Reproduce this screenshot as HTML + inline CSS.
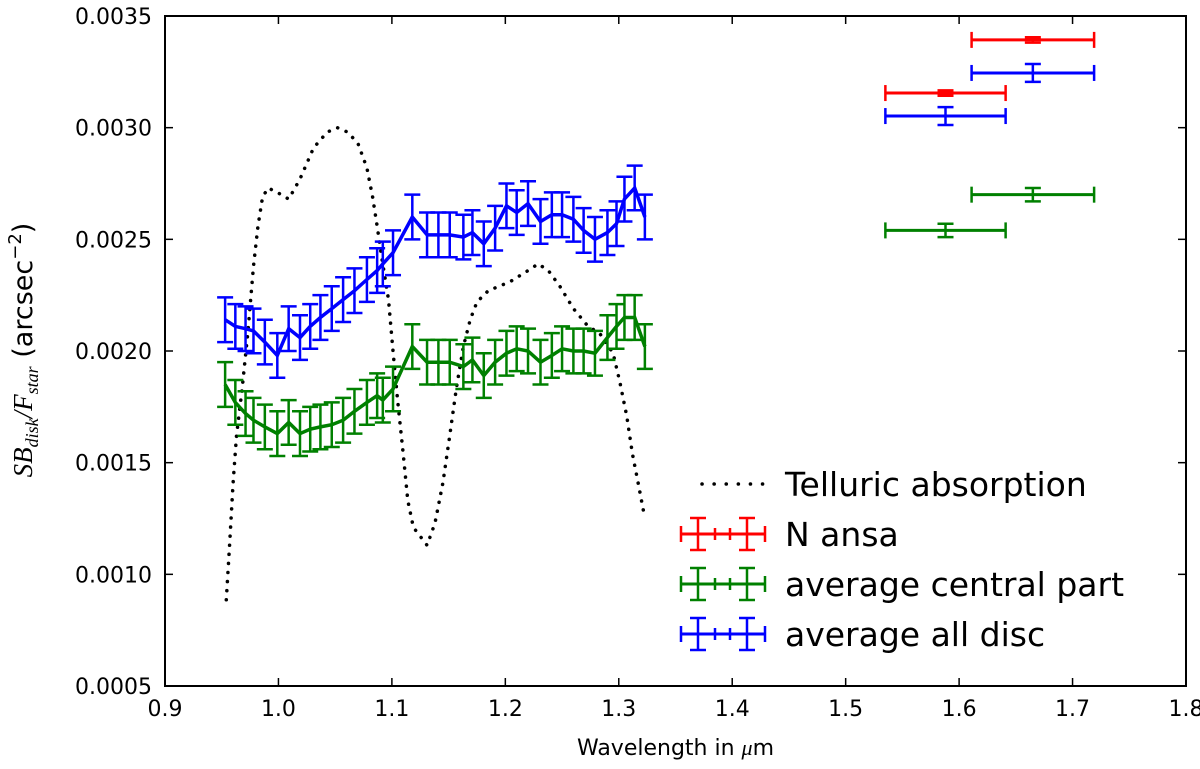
<!DOCTYPE html>
<html><head><meta charset="utf-8"><style>
html,body{margin:0;padding:0;background:#fff;}
svg{display:block;font-family:"DejaVu Sans","Liberation Sans",sans-serif;}
</style></head><body>
<svg id="chart" width="1200" height="769" viewBox="0 0 1200 769" xmlns="http://www.w3.org/2000/svg">
<rect width="1200" height="769" fill="#fff"/>
<g id="plot"></g>
<g id="axes"></g>
<g id="legend"></g>
</svg>
<script>
const wavelengths=[0.953,0.962,0.971,0.978,0.988,0.999,1.009,1.019,1.028,1.037,1.047,1.057,1.067,1.078,1.087,1.092,1.101,1.118,1.131,1.141,1.151,1.163,1.171,1.181,1.191,1.201,1.210,1.220,1.231,1.241,1.250,1.260,1.269,1.279,1.290,1.298,1.305,1.314,1.323];
const blueValues=[0.00214,0.00211,0.00210,0.00209,0.00204,0.00198,0.00210,0.00206,0.00211,0.00215,0.00219,0.00223,0.00227,0.00232,0.00236,0.00239,0.00244,0.00260,0.00252,0.00252,0.00252,0.00251,0.00253,0.00248,0.00255,0.00265,0.00262,0.00266,0.00258,0.00261,0.00261,0.00259,0.00254,0.00250,0.00253,0.00257,0.00268,0.00273,0.00260];
const greenValues=[0.00185,0.00177,0.00172,0.00169,0.00166,0.00163,0.00168,0.00163,0.00165,0.00166,0.00167,0.00169,0.00173,0.00177,0.00180,0.00178,0.00183,0.00202,0.00195,0.00195,0.00195,0.00193,0.00196,0.00189,0.00195,0.00199,0.00201,0.00200,0.00195,0.00198,0.00201,0.00200,0.00200,0.00199,0.00206,0.00211,0.00215,0.00215,0.00202];
const blueErr=0.0001;
const greenErr=0.0001;
const telluricX=[0.954,0.957,0.960,0.963,0.968,0.973,0.978,0.982,0.986,0.991,0.999,1.009,1.019,1.031,1.043,1.052,1.061,1.070,1.078,1.083,1.087,1.091,1.097,1.101,1.105,1.110,1.114,1.119,1.131,1.138,1.145,1.151,1.157,1.163,1.169,1.175,1.185,1.204,1.220,1.229,1.238,1.248,1.260,1.273,1.283,1.295,1.301,1.307,1.312,1.317,1.320,1.323];
const telluricY=[0.000886,0.00114,0.00141,0.00162,0.00183,0.00208,0.00238,0.00256,0.00269,0.00273,0.00271,0.00268,0.00277,0.00291,0.00298,0.00300,0.00298,0.00293,0.00282,0.00269,0.00256,0.00242,0.00223,0.00200,0.00178,0.00154,0.00133,0.00121,0.00113,0.00123,0.00141,0.00162,0.00184,0.00202,0.00214,0.00222,0.00227,0.00231,0.00236,0.00239,0.00236,0.00229,0.00219,0.00211,0.00208,0.00199,0.00186,0.00171,0.00154,0.00141,0.00133,0.00125];
const bandX=[1.588,1.665];
const bandXErr=[0.053,0.054];
const nAnsaY=[0.003155,0.003393];
const nAnsaErr=[0.000012,0.000012];
const allDiscY=[0.003052,0.003245];
const allDiscErr=[0.00004,0.00004];
const centralY=[0.00254,0.00270];
const centralErr=[0.00003,0.00003];
const xTicks=[0.9,1.0,1.1,1.2,1.3,1.4,1.5,1.6,1.7,1.8];
const yTicks=[0.0005,0.0010,0.0015,0.0020,0.0025,0.0030,0.0035];
const xTickLabels=["0.9","1.0","1.1","1.2","1.3","1.4","1.5","1.6","1.7","1.8"];
const yTickLabels=["0.0005","0.0010","0.0015","0.0020","0.0025","0.0030","0.0035"];

const L=165,R=1186,T=16,B=686;
const X=v=>L+(v-0.9)/0.9*(R-L);
const Y=v=>B-(v-0.0005)/0.003*(B-T);
const NS="http://www.w3.org/2000/svg";
function mk(tag,attrs,parent){const e=document.createElementNS(NS,tag);for(const k in attrs)e.setAttribute(k,attrs[k]);parent.appendChild(e);return e;}
const plot=document.getElementById('plot'),axes=document.getElementById('axes'),leg=document.getElementById('legend');

let tp=telluricX.map((x,i)=>X(x).toFixed(1)+','+Y(telluricY[i]).toFixed(1)).join(' ');
const tl=mk('polyline',{points:tp,fill:'none',stroke:'#000','stroke-width':3.5,'stroke-dasharray':'0.1 9','stroke-linecap':'round'},plot);



function series(vals,err,color,name){
  const g=mk('g',{},plot);
  
  
  vals.forEach((v,i)=>{
    const x=X(wavelengths[i]),y1=Y(v+err),y2=Y(v-err);
    mk('line',{x1:x,x2:x,y1:y1,y2:y2,stroke:color,'stroke-width':2.5},g);
    mk('line',{x1:x-8,x2:x+8,y1:y1,y2:y1,stroke:color,'stroke-width':2.5},g);
    mk('line',{x1:x-8,x2:x+8,y1:y2,y2:y2,stroke:color,'stroke-width':2.5},g);
  });
  mk('polyline',{points:vals.map((v,i)=>X(wavelengths[i]).toFixed(1)+','+Y(v).toFixed(1)).join(' '),fill:'none',stroke:color,'stroke-width':3.5,'stroke-linejoin':'miter'},g);
}
series(greenValues,greenErr,'#008000','central-part-series');
series(blueValues,blueErr,'#0000ff','all-disc-series');

function band(ys,errs,color,name){
  const g=mk('g',{},plot);
  
  
  ys.forEach((v,i)=>{
    const cx=X(bandX[i]),cy=Y(v),x1=X(bandX[i]-bandXErr[i]),x2=X(bandX[i]+bandXErr[i]);
    const y1=Y(v+errs[i]),y2=Y(v-errs[i]);
    mk('line',{x1:x1,x2:x2,y1:cy,y2:cy,stroke:color,'stroke-width':3},g);
    mk('line',{x1:x1,x2:x1,y1:cy-8,y2:cy+8,stroke:color,'stroke-width':2.5},g);
    mk('line',{x1:x2,x2:x2,y1:cy-8,y2:cy+8,stroke:color,'stroke-width':2.5},g);
    mk('line',{x1:cx,x2:cx,y1:y1,y2:y2,stroke:color,'stroke-width':2.5},g);
    mk('line',{x1:cx-8,x2:cx+8,y1:y1,y2:y1,stroke:color,'stroke-width':2.5},g);
    mk('line',{x1:cx-8,x2:cx+8,y1:y2,y2:y2,stroke:color,'stroke-width':2.5},g);
  });
}
band(nAnsaY,nAnsaErr,'#ff0000','n-ansa-points');
band(allDiscY,allDiscErr,'#0000ff','all-disc-band-points');
band(centralY,centralErr,'#008000','central-band-points');

const fr=mk('rect',{x:L,y:T,width:R-L,height:B-T,fill:'none',stroke:'#000','stroke-width':2},axes);


xTicks.forEach((v,i)=>{
  const x=X(v);
  mk('line',{x1:x,x2:x,y1:B,y2:B-8,stroke:'#000','stroke-width':1.5},axes);
  mk('line',{x1:x,x2:x,y1:T,y2:T+8,stroke:'#000','stroke-width':1.5},axes);
  const t=mk('text',{x:x,y:B+30,'text-anchor':'middle','font-size':22},axes);
  t.textContent=xTickLabels[i];
  
  
});
yTicks.forEach((v,i)=>{
  const y=Y(v);
  mk('line',{x1:L,x2:L+8,y1:y,y2:y,stroke:'#000','stroke-width':1.5},axes);
  mk('line',{x1:R,x2:R-8,y1:y,y2:y,stroke:'#000','stroke-width':1.5},axes);
  const t=mk('text',{x:L-13,y:y+8,'text-anchor':'end','font-size':22},axes);
  t.textContent=yTickLabels[i];
  
  
});
const xt=mk('text',{x:(L+R)/2,y:755,'text-anchor':'middle','font-size':22},axes);
xt.innerHTML='Wavelength in <tspan font-style="italic" font-family="Liberation Serif,serif">μ</tspan>m';


const yt=mk('text',{x:0,y:0,'text-anchor':'middle','font-size':27,transform:'translate(32,350) rotate(-90)'},axes);
yt.innerHTML='<tspan font-family="Liberation Serif,serif" font-style="italic">SB<tspan font-size="18" dy="6">disk</tspan><tspan dy="-6">/F</tspan><tspan font-size="18" dy="6">star</tspan></tspan><tspan dy="-6"> (arcsec</tspan><tspan font-size="18" dy="-11">−2</tspan><tspan dy="11">)</tspan>';



const ld=mk('line',{x1:702,x2:765,y1:484,y2:484,stroke:'#000','stroke-width':3.5,'stroke-dasharray':'0.1 12','stroke-linecap':'round'},leg);


function legText(y,txt,name){const t=mk('text',{x:785,y:y+12,'font-size':33},leg);t.textContent=txt;}
legText(484,'Telluric absorption','legend-telluric-label');
function legErr(y,color,name){
  const g=mk('g',{},leg);
  
  
  mk('line',{x1:681,x2:765,y1:y,y2:y,stroke:color,'stroke-width':3},g);
  [681,765].forEach(x=>mk('line',{x1:x,x2:x,y1:y-8,y2:y+8,stroke:color,'stroke-width':2.5},g));
  [715,730].forEach(x=>mk('line',{x1:x,x2:x,y1:y-6,y2:y+6,stroke:color,'stroke-width':2.5},g));
  [698,747].forEach(x=>{mk('line',{x1:x,x2:x,y1:y-16,y2:y+16,stroke:color,'stroke-width':2.5},g);mk('line',{x1:x-8,x2:x+8,y1:y-16,y2:y-16,stroke:color,'stroke-width':2.5},g);mk('line',{x1:x-8,x2:x+8,y1:y+16,y2:y+16,stroke:color,'stroke-width':2.5},g);});
}
legErr(534,'#ff0000','legend-n-ansa-swatch');legText(534,'N ansa','legend-n-ansa-label');
legErr(584,'#008000','legend-central-swatch');legText(584,'average central part','legend-central-label');
legErr(634,'#0000ff','legend-all-disc-swatch');legText(634,'average all disc','legend-all-disc-label');
</script>
</body></html>
